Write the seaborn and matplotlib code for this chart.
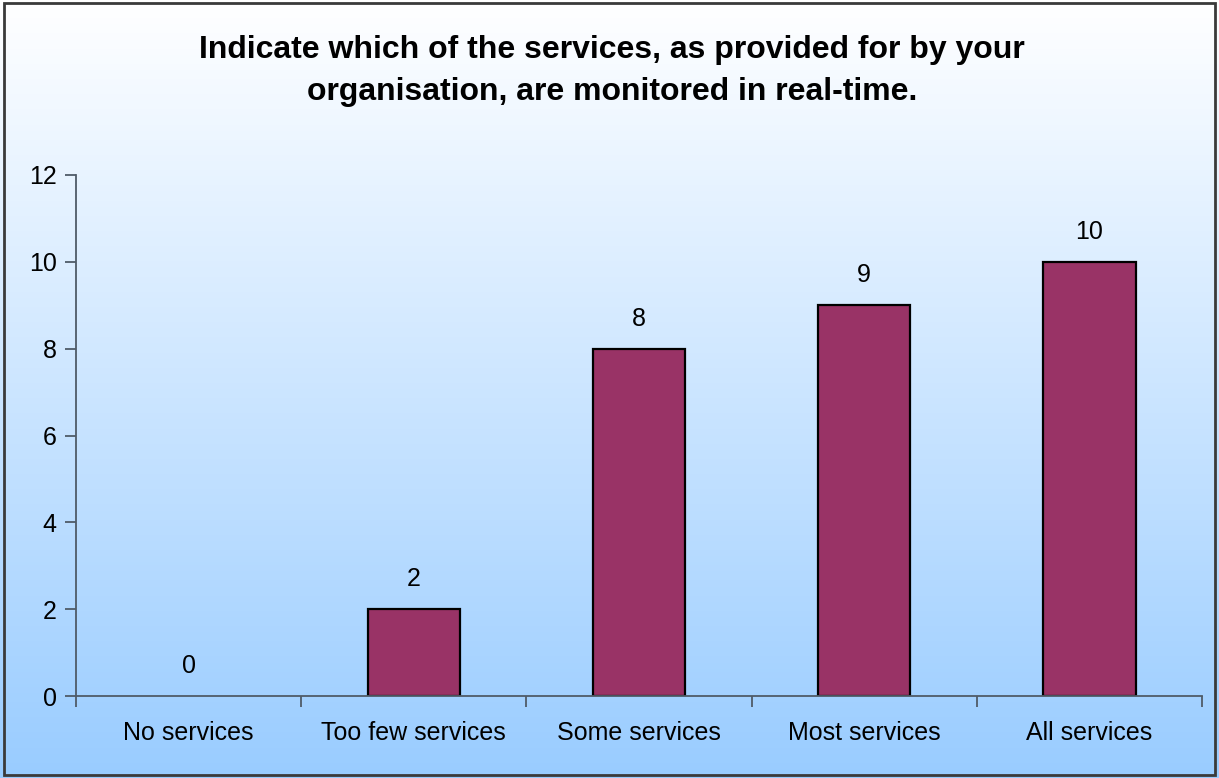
import numpy as np
import matplotlib
matplotlib.use("Agg")
import matplotlib.pyplot as plt
from matplotlib.colors import LinearSegmentedColormap
from matplotlib.patches import Rectangle
import seaborn as sns
import pandas as pd

categories = ["No services", "Too few services", "Some services", "Most services", "All services"]
counts = [0, 2, 8, 9, 10]
y_ticks = [0, 2, 4, 6, 8, 10, 12]
title = "Indicate which of the services, as provided for by your\norganisation, are monitored in real-time."

sns.set_theme(style="white")
plt.rcParams["font.family"] = ["Liberation Sans", "DejaVu Sans"]

W, H, DPI = 1219, 778, 100
fig = plt.figure(figsize=(W / DPI, H / DPI), dpi=DPI)

# vertical gradient background across the whole figure
bg = fig.add_axes([0, 0, 1, 1], zorder=-10)
grad = np.linspace(0, 1, 256).reshape(-1, 1)
cmap = LinearSegmentedColormap.from_list("bg", ["#ffffff", "#99ccff"])
bg.imshow(grad, aspect="auto", cmap=cmap, extent=[0, 1, 0, 1], origin="upper")
bg.set_axis_off()

# outer frame
fig.patches.append(Rectangle((0.003, 0.004), 0.994, 0.992, transform=fig.transFigure,
                             fill=False, edgecolor="#3a3a3a", linewidth=2, zorder=10))

ax = fig.add_axes([76 / W, 1 - 696 / H, (1202 - 76) / W, (696 - 175) / H])
ax.patch.set_alpha(0)

df = pd.DataFrame({"category": categories, "count": counts})
sns.barplot(data=df, x="category", y="count", order=categories, color="#993366",
            saturation=1, width=0.41, edgecolor="black", linewidth=1.6, ax=ax)

# empty categories get no visible bar outline
for patch in ax.patches:
    if patch.get_height() == 0:
        patch.set_linewidth(0)

for i, v in enumerate(counts):
    ax.annotate(str(v), (i, v), xytext=(0, 13), textcoords="offset points",
                ha="center", va="bottom", fontsize=18, color="black")

ax.set_xlim(-0.5, len(categories) - 0.5)
ax.set_ylim(0, 12)
ax.set_yticks(y_ticks)
ax.set_xlabel("")
ax.set_ylabel("")

axis_color = "#4f5b68"
for s in ["top", "right"]:
    ax.spines[s].set_visible(False)
for s in ["left", "bottom"]:
    ax.spines[s].set_color(axis_color)
    ax.spines[s].set_linewidth(1.3)

ax.tick_params(axis="y", which="major", direction="out", length=8, width=1.3,
               color=axis_color, labelsize=18, labelcolor="black", pad=6, left=True)
ax.tick_params(axis="x", which="major", length=0, labelsize=18, labelcolor="black", pad=18)
ax.set_xticks(np.arange(-0.5, len(categories)), minor=True)
ax.tick_params(axis="x", which="minor", direction="out", length=8, width=1.3,
               color=axis_color, bottom=True)

fig.text(612 / W, 1 - 71 / H, title, ha="center", va="center", fontsize=23,
         fontweight="bold", linespacing=1.5, color="black")

fig.savefig("out.png", dpi=DPI)
